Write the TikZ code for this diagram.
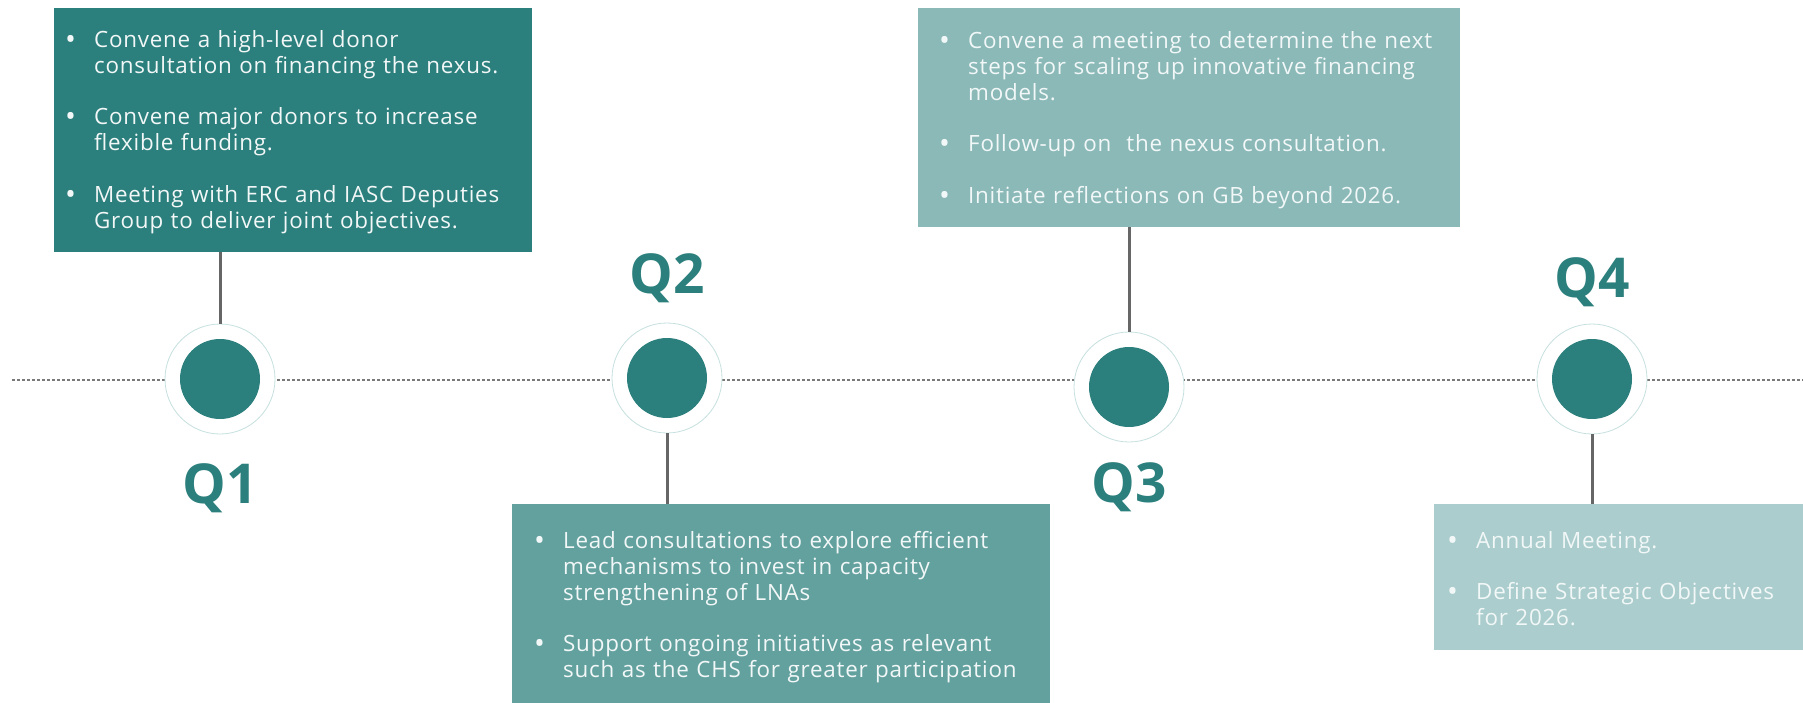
\documentclass[tikz,border=0pt]{standalone}
\usepackage{fontspec}
\setmainfont{Open Sans}
\newfontfamily\bodyfont[LetterSpace=3.4]{Open Sans}
\definecolor{teal1}{HTML}{2B7F7C}
\definecolor{teal2}{HTML}{63A19F}
\definecolor{teal3}{HTML}{8AB9B8}
\definecolor{teal4}{HTML}{ABCDCD}
\definecolor{ringc}{HTML}{C6E0DF}
\definecolor{linec}{HTML}{666666}
\definecolor{dashc}{HTML}{7A7A7A}
\definecolor{txtc}{HTML}{F2F7F7}
\newlength\bhang
\setlength\bhang{29pt}
\newcommand\nl{\hfil\break}
\newcommand\bitem[1]{\noindent\hangindent=\bhang\hangafter=1\makebox[\bhang][l]{\rule{0pt}{20pt}\raisebox{-2pt}{\fontsize{29}{26}\selectfont\textbullet}}#1\par}
\tikzset{
  qbox/.style={rectangle, draw=none, inner sep=0pt, anchor=north west},
  qtext/.style={inner sep=0pt, anchor=north west, text=txtc, text width=600pt,
    font={\bodyfont\fontsize{22.4}{26}\selectfont\setlength\parskip{25.5pt}}},
  ring/.style={circle, draw=ringc, line width=0.8pt, fill=white, minimum size=110pt, inner sep=0pt},
  dot/.style={circle, fill=teal1, minimum size=80pt, inner sep=0pt},
  qlabel/.style={anchor=base, text=teal1, font={\fontsize{55}{60}\selectfont\bfseries}, inner sep=0pt},
  conn/.style={draw=linec, line width=3pt},
  tline/.style={draw=dashc, line width=2.5pt, dash pattern=on 3pt off 2pt}
}
\begin{document}
\begin{tikzpicture}[x=1pt,y=-1pt]
\useasboundingbox (0,0) rectangle (1803,703);
\fill[white] (0,0) rectangle (1803,703);
\clip (0,0) rectangle (1803,703);
% timeline
\coordinate (tlL) at (12,380);
\coordinate (tlR) at (1803,380);
\draw[tline] (tlL) -- (tlR);
% boxes
\node[qbox, fill=teal1, minimum width=478pt, minimum height=244pt] (box1) at (54,8) {};
\node[qbox, fill=teal2, minimum width=538pt, minimum height=230pt] (box2) at (512,504) {};
\node[qbox, fill=teal3, minimum width=542pt, minimum height=219pt] (box3) at (918,8) {};
\node[qbox, fill=teal4, minimum width=380pt, minimum height=146pt] (box4) at (1434,504) {};
% rings and dots
\node[ring] (ring1) at (220,379) {};
\node[dot] (dot1) at (ring1) {};
\node[ring] (ring2) at (667,378) {};
\node[dot] (dot2) at (ring2) {};
\node[ring] (ring3) at (1129,387) {};
\node[dot] (dot3) at (ring3) {};
\node[ring] (ring4) at (1592,379) {};
\node[dot] (dot4) at (ring4) {};
% connectors
\draw[conn] (ring1.north |- box1.south) -- (ring1.north);
\draw[conn] (ring2.south) -- (ring2.south |- box2.north);
\draw[conn] (ring3.north |- box3.south) -- (ring3.north);
\draw[conn] (ring4.south) -- (ring4.south |- box4.north);
% labels
\node[qlabel] (lab1) at (220,503) {Q1};
\node[qlabel] (lab2) at (667,293) {Q2};
\node[qlabel] (lab3) at (1129,502) {Q3};
\node[qlabel] (lab4) at (1592,297) {Q4};
% texts (node top = first baseline - 20pt)
\node[qtext] (txt1) at (65,27) {%
\bitem{Convene a high-level donor\nl consultation on financing the nexus.}%
\bitem{Convene major donors to increase\nl flexible funding.}%
\bitem{Meeting with ERC and IASC Deputies\nl Group to deliver joint objectives.}};
\node[qtext] (txt2) at (534,528) {%
\bitem{Lead consultations to explore efficient\nl mechanisms to invest in capacity\nl strengthening of LNAs}%
\bitem{Support ongoing initiatives as relevant\nl such as the CHS for greater participation}};
\node[qtext] (txt3) at (939,28) {%
\bitem{Convene a meeting to determine the next\nl steps for scaling up innovative financing\nl models.}%
\bitem{Follow-up on\ \ the nexus consultation.}%
\bitem{Initiate reflections on GB beyond 2026.}};
\node[qtext] (txt4) at (1447,528) {%
\bitem{Annual Meeting.}%
\bitem{Define Strategic Objectives\nl for 2026.}};
\end{tikzpicture}
\end{document}
